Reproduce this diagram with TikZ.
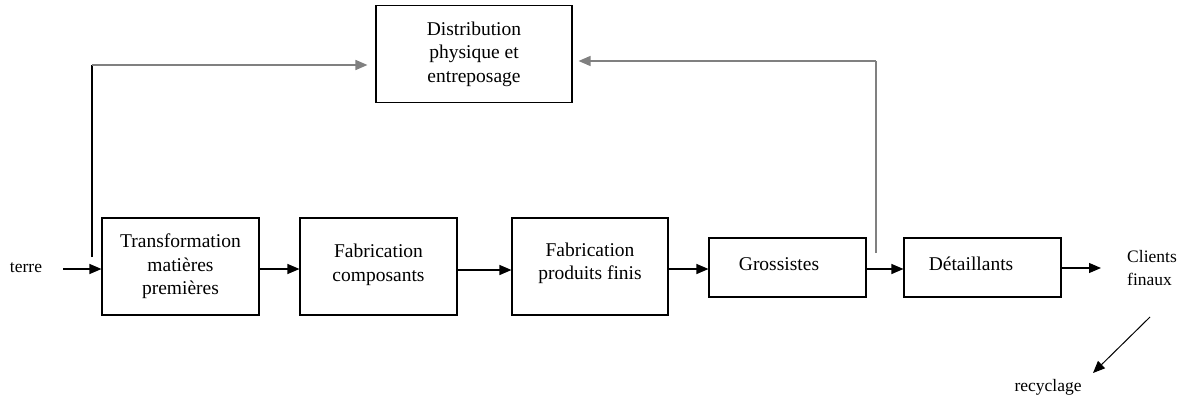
\documentclass[tikz,border=0pt]{standalone}
\usepackage{fontspec}
\setmainfont{Liberation Serif}
\usetikzlibrary{arrows.meta}
\begin{document}
\begin{tikzpicture}[x=1pt,y=-1pt,
  box/.style={draw=black,line width=1.1pt,inner sep=0pt,align=center,
    font=\fontsize{19.5}{23.5}\selectfont},
  lbl/.style={inner sep=0pt,font=\fontsize{17.5}{23}\selectfont},
  arr/.style={line width=1.2pt,-{Triangle[length=12pt,width=10pt]}},
  garr/.style={draw=black!50,line width=1.5pt,-{Triangle[length=12pt,width=10pt]}},
  gline/.style={draw=black!50,line width=1.5pt},
  bline/.style={draw=black,line width=1.1pt}]
\useasboundingbox (0,0) rectangle (1185,396);
\node[box,minimum width=157pt,minimum height=97pt] (trans) at (180.5,266.5) {Transformation\\matières\\premières};
\node[box,minimum width=157pt,minimum height=97pt,text depth=8pt] (fabc) at (378.5,266.5) {Fabrication\\composants};
\node[box,minimum width=156pt,minimum height=97pt,text depth=11pt] (fabp) at (590,266.5) {Fabrication\\produits finis};
\node[box,minimum width=157pt,minimum height=59pt,text depth=7pt] (gros) at (787.5,267.5) {Grossistes\hspace{17pt}};
\node[box,minimum width=157pt,minimum height=59pt,text depth=8pt] (det) at (982.5,267.5) {Détaillants\hspace{23pt}};
\node[box,minimum width=196pt,minimum height=97pt] (dist) at (474,54) {Distribution\\physique et\\entreposage};
\node[lbl] (terre) at (26,268) {terre};
\node[lbl,align=left] (clients) at (1152,268) {Clients\\finaux};
\node[lbl] (recy) at (1048,387) {recyclage};
\coordinate (tin) at (63,269);
\coordinate (lbot) at (92,257);
\coordinate (ltop) at (92,65);
\coordinate (rbot) at (876,253);
\coordinate (rtop) at (876,61);
\coordinate (cout) at (1101,268);
\coordinate (rs) at (1150,317);
\coordinate (re) at (1093,373);
\draw[arr] (tin) -- (trans.west |- tin);
\draw[arr] (trans.east |- 0,269) -- (fabc.west |- 0,269);
\draw[arr] (fabc.east |- 0,270) -- (fabp.west |- 0,270);
\draw[arr] (fabp.east |- 0,269) -- (gros.west |- 0,269);
\draw[arr] (gros.east |- 0,269) -- (det.west |- 0,269);
\draw[arr] (det.east |- cout) -- (cout);
\draw[arr,line width=1pt] (rs) -- (re);
\draw[bline] (lbot) -- (ltop);
\draw[garr] (ltop) -- ([xshift=-8pt]dist.west |- ltop);
\draw[gline] (rbot) -- (rtop);
\draw[garr] (rtop) -- ([xshift=6pt]dist.east |- rtop);
\end{tikzpicture}
\end{document}
